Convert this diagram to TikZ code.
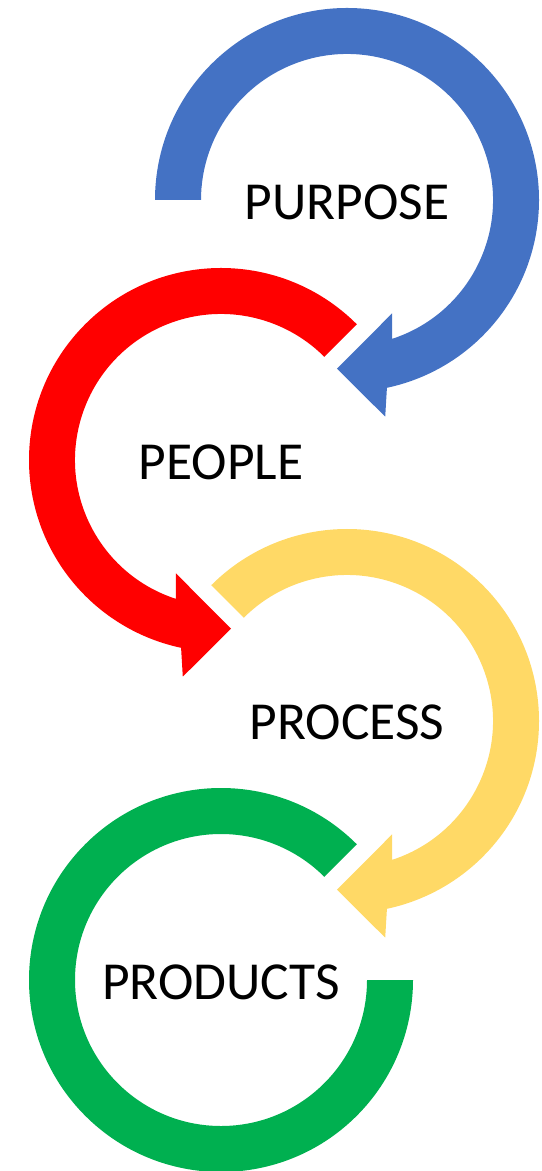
\documentclass[tikz,border=0pt]{standalone}
\usepackage{fontspec}
\setmainfont{Carlito}
\definecolor{purposeblue}{HTML}{4472C4}
\definecolor{peoplered}{HTML}{FF0000}
\definecolor{processgold}{HTML}{FFD966}
\definecolor{productsgreen}{HTML}{00B050}
\tikzset{ringlabel/.style={font=\fontsize{15.2}{18}\selectfont, inner sep=0pt}}
% band from angle #1 clockwise round to an arrow head at the bottom
\newcommand{\ringarrow}[1]{(#1:\R) arc[start angle=#1, end angle=-78, radius=\R]
  -- (-80:220) -- (-93.4:169) -- (-68.3:122) -- (-72:\r)
  arc[start angle=-72, end angle=#1, radius=\r] -- cycle}
\begin{document}
\begin{tikzpicture}[x=0.01cm, y=0.01cm, line join=round]
    \def\R{192} \def\r{146}
    \useasboundingbox (0,0) rectangle (541,-1171);
    \fill[purposeblue, shift={(347,-200)}] \ringarrow{180};
    \fill[peoplered, shift={(221,-460)}, xscale=-1] \ringarrow{135};
    \fill[processgold, shift={(347,-721)}] \ringarrow{135};
    \fill[productsgreen, shift={(221,-980)}] (45:\R) arc[start angle=45, end angle=360, radius=\R]
        -- (0:\r) arc[start angle=360, end angle=45, radius=\r] -- cycle;
    \node[ringlabel] (purpose) at (347,-202) {PURPOSE};
    \node[ringlabel] (people) at (221,-462) {PEOPLE};
    \node[ringlabel] (process) at (347,-722) {PROCESS};
    \node[ringlabel] (products) at (221,-982) {PRODUCTS};
\end{tikzpicture}
\end{document}
